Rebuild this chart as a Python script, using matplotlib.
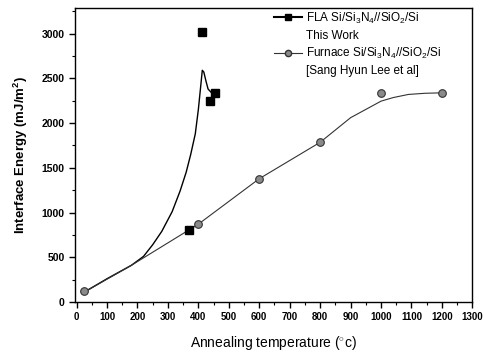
import matplotlib
matplotlib.use("Agg")
import matplotlib.pyplot as plt
from matplotlib.lines import Line2D
from matplotlib.ticker import MultipleLocator

plt.rcParams["font.family"] = ["Liberation Sans", "DejaVu Sans"]
plt.rcParams["mathtext.fontset"] = "custom"
plt.rcParams["mathtext.rm"] = "Liberation Sans"
plt.rcParams["mathtext.it"] = "Liberation Sans:italic"
plt.rcParams["mathtext.bf"] = "Liberation Sans:bold"

# FLA data (This Work)
fla_temp = [370, 413, 437, 455]
fla_energy = [810, 3020, 2245, 2340]
# FLA fitted guide curve
fla_curve_temp = [25, 100, 180, 220, 250, 280, 314, 340, 360, 375, 390, 400, 408, 413, 418, 425, 432, 443]
fla_curve_energy = [110, 260, 410, 510, 640, 790, 1010, 1240, 1450, 1650, 1880, 2150, 2420, 2590, 2570, 2470, 2380, 2340]

# Furnace data (Sang Hyun Lee et al)
fur_temp = [25, 400, 600, 800, 1000, 1200]
fur_energy = [120, 870, 1378, 1785, 2335, 2335]
# Furnace fitted guide curve
fur_curve_temp = [25, 180, 400, 600, 800, 900, 1000, 1040, 1090, 1145, 1200]
fur_curve_energy = [110, 410, 870, 1378, 1785, 2060, 2245, 2285, 2320, 2333, 2338]

xticks = list(range(0, 1301, 100))
yticks = list(range(0, 3001, 500))

fig = plt.figure(figsize=(4.84, 3.52), dpi=100)
ax = fig.add_axes([0.155, 0.142, 0.821, 0.835])

ax.plot(fla_curve_temp, fla_curve_energy, color="black", lw=1.0)
ax.plot(fur_curve_temp, fur_curve_energy, color="#333333", lw=0.8)
ax.plot(fur_temp, fur_energy, linestyle="none", marker="o", ms=5.5,
        mfc="#8a8a8a", mec="#333333", mew=0.8)
ax.plot(fla_temp, fla_energy, linestyle="none", marker="s", ms=5.5,
        mfc="black", mec="black")

ax.set_xlim(-5, 1300)
ax.set_ylim(0, 3285)
ax.set_xticks(xticks)
ax.set_yticks(yticks)
ax.xaxis.set_minor_locator(MultipleLocator(50))
ax.yaxis.set_minor_locator(MultipleLocator(250))
ax.tick_params(which="major", direction="out", length=4, width=1.0, labelsize=7.5)
ax.tick_params(axis="x", which="major", labelsize=7)
ax.tick_params(which="minor", direction="out", length=2.5, width=0.8)
for lab in ax.get_xticklabels() + ax.get_yticklabels():
    lab.set_fontweight("bold")
for sp in ax.spines.values():
    sp.set_linewidth(1.0)

ax.set_xlabel("Annealing temperature ($^{\\circ}$c)", fontsize=10, labelpad=8)
ax.set_ylabel("Interface Energy (mJ/m$^\\mathbf{2}$)", fontsize=9.5, fontweight="bold", labelpad=8)

blank = Line2D([], [], linestyle="none")
h1 = Line2D([], [], color="black", lw=1.5, marker="s", ms=4, mfc="black")
h2 = Line2D([], [], color="#333333", lw=0.8, marker="o", ms=4.5, mfc="#8a8a8a", mec="#333333")
leg = ax.legend([h1, blank, h2, blank],
                ["FLA Si/Si$_3$N$_4$//SiO$_2$/Si", "This Work",
                 "Furnace Si/Si$_3$N$_4$//SiO$_2$/Si", "[Sang Hyun Lee et al]"],
                loc="upper left", bbox_to_anchor=(0.49, 1.008), frameon=False,
                fontsize=8.5, handlelength=2.3, handletextpad=0.4, labelspacing=0.35,
                borderaxespad=0.0)

fig.savefig("out.png", dpi=100)
